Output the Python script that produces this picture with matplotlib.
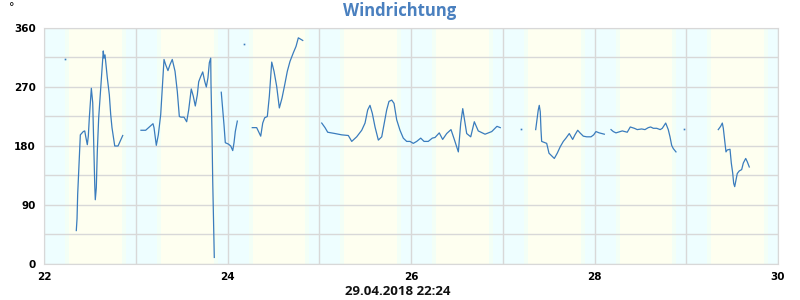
import numpy as np
from matplotlib import pyplot as plt

# wind direction, time as day of month (April 2018), NaN = gap in the record
t = [22.352, 22.360, 22.367, 22.378, 22.389, 22.396, 22.428, 22.444, 22.454, 22.472,
     22.483, 22.494, 22.516, 22.531, 22.545, 22.553, 22.559, 22.570, 22.581, 22.596,
     22.618, 22.632, 22.646, 22.654, 22.665, 22.676, 22.690, 22.712, 22.727, 22.741,
     22.771, 22.807, 22.858, np.nan,
     23.057, 23.108, 23.188, 23.199, 23.224, 23.246, 23.272, 23.289, 23.308, 23.326,
     23.351, 23.373, 23.398, 23.428, 23.453, 23.475, 23.493, 23.526, 23.555, 23.577,
     23.605, 23.627, 23.649, 23.671, 23.686, 23.708, 23.730, 23.751, 23.769, 23.787,
     23.802, 23.817, 23.820, 23.831, 23.839, 23.850, 23.856, np.nan,
     23.932, 23.948, 23.962, 23.976, 24.009, 24.035, 24.057, 24.071, 24.085, 24.107, np.nan,
     24.270, 24.318, 24.362, 24.384, 24.405, 24.434, 24.456, 24.482, 24.507, 24.536,
     24.565, 24.594, 24.623, 24.652, 24.681, 24.717, 24.747, 24.772, 24.820, np.nan,
     25.027, 25.063, 25.092, 25.172, 25.245, 25.317, 25.354, 25.408, 25.463, 25.499,
     25.528, 25.553, 25.578, 25.608, 25.644, 25.681, 25.709, 25.735, 25.760, 25.790,
     25.815, 25.844, 25.880, 25.916, 25.953, 25.989, 26.025, 26.062, 26.106, 26.142,
     26.188, 26.232, 26.262, 26.308, 26.345, 26.389, 26.436, 26.472, 26.516, 26.542,
     26.564, 26.581, 26.607, 26.651, 26.690, 26.733, 26.807, 26.880, 26.937, 26.973, np.nan,
     27.359, 27.377, 27.387, 27.398, 27.409, 27.417, 27.424, 27.460, 27.479, 27.504,
     27.533, 27.562, 27.594, 27.627, 27.660, 27.689, 27.725, 27.762, 27.787, 27.817,
     27.842, 27.878, 27.915, 27.962, 27.991, 28.016, 28.052, 28.107, np.nan,
     28.180, 28.205, 28.234, 28.278, 28.303, 28.332, 28.357, 28.390, 28.434, 28.466,
     28.514, 28.550, 28.586, 28.612, 28.641, 28.678, 28.716, 28.739, 28.776, 28.804,
     28.823, 28.841, 28.859, 28.888, np.nan,
     29.349, 29.375, 29.393, 29.404, 29.419, 29.433, 29.447, 29.477, 29.491, 29.506,
     29.517, 29.528, 29.542, 29.556, 29.578, 29.604, 29.622, 29.648, 29.665, 29.687]
deg = [51, 69, 106, 142, 180, 197, 202, 203, 195, 182,
       195, 223, 268, 246, 167, 121, 98, 116, 172, 223,
       268, 299, 325, 314, 319, 304, 284, 258, 228, 208,
       180, 180, 196, np.nan,
       204, 204, 214, 208, 181, 197, 228, 268, 312, 304,
       295, 304, 312, 294, 263, 225, 224, 224, 217, 235,
       267, 256, 241, 258, 278, 286, 293, 279, 270, 284,
       307, 314, 276, 200, 126, 50, 10, np.nan,
       262, 235, 212, 185, 183, 180, 173, 185, 202, 218, np.nan,
       208, 208, 195, 215, 223, 225, 256, 308, 294, 271,
       238, 253, 273, 294, 309, 322, 332, 345, 341, np.nan,
       215, 208, 201, 199, 197, 196, 187, 194, 204, 215,
       235, 242, 230, 209, 189, 194, 215, 235, 248, 250,
       245, 220, 204, 192, 187, 187, 184, 187, 192, 187,
       187, 192, 193, 200, 190, 199, 205, 190, 171, 215,
       237, 222, 199, 194, 217, 203, 198, 202, 210, 208, np.nan,
       205, 225, 235, 242, 232, 204, 187, 185, 184, 169,
       165, 161, 169, 179, 187, 192, 199, 190, 197, 204,
       200, 195, 194, 194, 197, 202, 200, 198, np.nan,
       205, 202, 200, 202, 203, 202, 201, 209, 207, 205,
       206, 205, 208, 209, 207, 207, 205, 207, 215, 205,
       194, 181, 176, 171, np.nan,
       205, 210, 215, 207, 189, 171, 174, 175, 154, 139,
       123, 118, 128, 138, 142, 144, 154, 161, 156, 148]

# lone readings without a neighbour
t_single = [22.23, 24.183, 27.196, 28.979]
deg_single = [313, 336, 206, 206]

# sunrise / sunset as fraction of day
sunrise = 0.275
sunset = 0.848
days = list(range(22, 30))

night_col = '#eefeff'
day_col = '#fefff0'
dusk_col = '#f3fff6'
line_col = '#3a7cbd'
grid_col = '#d8d8d8'

fig = plt.figure(figsize=(8, 3), dpi=100)
ax = fig.add_axes([0.055, 0.12, 0.9175, 0.7867])
ax.set_facecolor(night_col)

tw = 0.045
for d in days:
    ax.axvspan(d + sunrise - tw, d + sunrise, color=dusk_col, lw=0, zorder=0)
    ax.axvspan(d + sunrise, d + sunset, color=day_col, lw=0, zorder=0)
    ax.axvspan(d + sunset, d + sunset + tw, color=dusk_col, lw=0, zorder=0)

ax.plot(t, deg, color=line_col, lw=0.9, zorder=3)
ax.plot(t_single, deg_single, ls='none', marker='s', ms=1.2, mew=0,
        color=line_col, zorder=3)

ax.set_xlim(22, 30)
ax.set_ylim(0, 360)
ax.set_xticks(range(22, 31))
ax.set_xticklabels([str(d) if d % 2 == 0 else '' for d in range(22, 31)])
ax.set_yticks(range(0, 361, 45))
ax.set_yticklabels([str(v) if v % 90 == 0 else '' for v in range(0, 361, 45)])
ax.grid(True, color=grid_col, lw=1, zorder=1)
ax.set_axisbelow(True)
ax.tick_params(length=0, labelsize=7.5, pad=6)
for lab in ax.get_xticklabels() + ax.get_yticklabels():
    lab.set_fontweight('bold')
for s in ax.spines.values():
    s.set_color(grid_col)

fig.text(0.4975, 0.027, '29.04.2018 22:24', ha='center', va='center',
         fontsize=9.5, fontweight='bold', family='Open Sans', color='#111111')
fig.text(0.5, 0.965, 'Windrichtung', ha='center', va='center', fontsize=12,
         fontweight='bold', color='#4a80bf', family='Open Sans')
fig.text(0.015, 0.975, '°', ha='center', va='center', fontsize=8)

fig.savefig('out.png', dpi=100)
